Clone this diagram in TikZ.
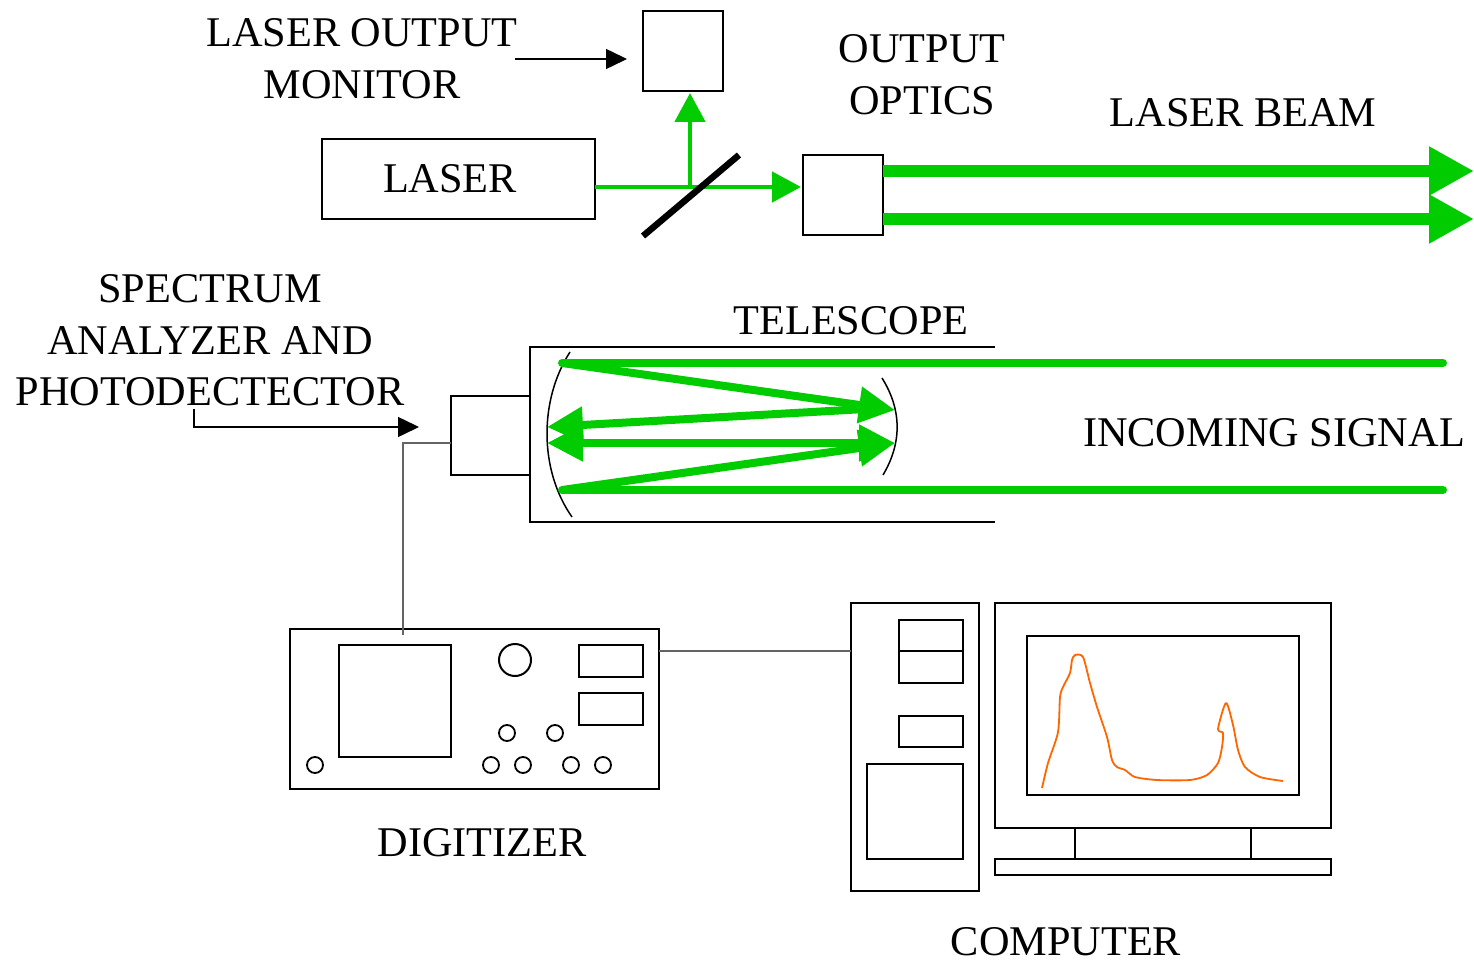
\documentclass[tikz,border=0pt]{standalone}
\usepackage{fontspec}
\setmainfont{Liberation Serif}
\usetikzlibrary{arrows.meta}
\definecolor{beam}{RGB}{0,204,0}
\definecolor{trace}{RGB}{255,102,0}
\definecolor{wire}{RGB}{100,100,100}

\begin{document}
\begin{tikzpicture}[x=1pt,y=-1pt,
  box/.style={draw, line width=2pt, inner sep=0pt, outer sep=0pt},
  part/.style={draw, line width=2pt},
  lbl/.style={anchor=base, inner sep=0pt, font=\fontsize{42.3}{52}\selectfont},
  pointer/.style={line width=1.5pt, -{Triangle[length=21pt,width=20pt]}},
  feed/.style={beam, line width=4.7pt, -{Triangle[length=29pt,width=30pt]}},
  outbeam/.style={beam, line width=12pt, -{Triangle[length=45pt,width=46pt]}},
  ray/.style={beam, line width=8pt},
  raytip/.style={-{Triangle[length=36pt,width=35pt]}},
  cable/.style={wire, line width=1.2pt},
]
\useasboundingbox (0,0) rectangle (1474,963);

% ---------------- transmitter ----------------
\node[box, minimum width=80pt, minimum height=80pt] (mon) at (683,51) {};
\node[box, minimum width=273pt, minimum height=80pt] (laser) at (458.5,179) {};
\node[lbl] (laserT) at (450,192) {LASER};
\node[box, minimum width=80pt, minimum height=80pt] (optics) at (843,195) {};

\node[lbl] (monT1) at (362,47) {LASER OUTPUT};
\node[lbl] (monT2) at (362,99) {MONITOR};
\coordinate (monA) at (515,59);
\coordinate (monB) at (627,59);
\draw[pointer] (monA) -- (monB);

\node[lbl] (optT1) at (922,63) {OUTPUT};
\node[lbl] (optT2) at (922,115) {OPTICS};
\node[lbl] (beamT) at (1243,127) {LASER BEAM};

% beam splitter and beams
\coordinate (bs) at (690,187);
\coordinate (spl1) at (643,236);
\coordinate (spl2) at (739,155);
\draw[feed] (laser.east |- bs) -- ([xshift=-2pt]optics.west |- bs);
\draw[feed] (bs) -- ([yshift=-2pt]bs |- mon.south);
\draw[line width=6.5pt] (spl1) -- (spl2);

\coordinate (b1) at (1474,171);
\coordinate (b2) at (1474,219);
\draw[outbeam] (optics.east |- b1) -- (b1);
\draw[outbeam] (optics.east |- b2) -- (b2);

% ---------------- receiver ----------------
\node[lbl] (specT1) at (210,302) {SPECTRUM};
\node[lbl] (specT2) at (210,354) {ANALYZER AND};
\node[lbl] (specT3) at (210,405) {PHOTODECTECTOR};
\coordinate (specA) at (194,409);
\coordinate (specB) at (419,427);
\draw[pointer] (specA) |- (specB);

\node[lbl] (telT) at (851,334) {TELESCOPE};
\node[lbl] (sigT) at (1274,446) {INCOMING SIGNAL};

\coordinate (tubeA) at (995,347);
\coordinate (tubeB) at (995,522);
\draw[line width=2pt] (tubeA) -- (530,347) -- (530,522) -- (tubeB);

\node[box, minimum width=79pt, minimum height=79pt] (det) at (490.5,435) {};

% mirrors
\draw[line width=1.5pt] (570,352) .. controls (539,400) and (539,470) .. (572,517);
\draw[line width=1.5pt] (882,378) .. controls (902,410) and (902,443) .. (883,475);

% folded light path
\coordinate (inT) at (562,363);
\coordinate (inB) at (562,490);
\coordinate (sm1) at (895,410);
\coordinate (sm2) at (895,443);
\coordinate (pm1) at (547,427);
\coordinate (pm2) at (547,443);
\draw[ray, line cap=round] (inT) -- (1443,363);
\draw[ray, line cap=round] (inB) -- (1443,490);
\draw[ray, raytip] (inT) -- (sm1);
\draw[ray, raytip] ([xshift=-30pt,yshift=1pt]sm1) -- (pm1);
\draw[ray, {Triangle[length=36pt,width=35pt]}-{Triangle[length=36pt,width=35pt]}] (pm2) -- (sm2);
\draw[ray, raytip] (inB) -- (sm2);

% ---------------- digitizer ----------------
\node[box, minimum width=369pt, minimum height=160pt] (dig) at (474.5,709) {};
\node[lbl] (digT) at (482,856) {DIGITIZER};
\draw[cable] (det.west |- 0,443) -| (403,635);
\draw[part] (339,645) rectangle (451,757);
\draw[part] (515,660) circle (16);
\draw[part] (579,645) rectangle (643,677);
\draw[part] (579,693) rectangle (643,725);
\foreach \p in {(507,733),(555,733),(491,765),(523,765),(571,765),(603,765),(315,765)}
  \draw[line width=1.8pt] \p circle (8);

% ---------------- computer ----------------
\node[box, minimum width=128pt, minimum height=288pt] (tower) at (915,747) {};
\draw[cable] (dig.east |- 0,651) -- (tower.west |- 0,651);
\draw[part] (899,620) rectangle (963,651);
\draw[part] (899,651) rectangle (963,683);
\draw[part] (899,716) rectangle (963,747);
\draw[part] (867,764) rectangle (963,859);

\node[box, minimum width=336pt, minimum height=225pt] (screen) at (1163,715.5) {};
\draw[part] (1027,636) rectangle (1299,795);
\draw[part] (1075,828) rectangle (1251,859);
\draw[part] (995,859) rectangle (1331,875);
\node[lbl] (compT) at (1066,955) {COMPUTER};

\draw[trace, line width=1.8pt, line join=round] plot[smooth, tension=0.45] coordinates {
  (1042,788) (1048,763) (1058,732) (1060,697) (1063,687) (1070,673) (1072,660)
  (1075,655) (1083,657) (1090,683) (1097,707) (1107,737) (1112,760) (1117,767)
  (1125,770) (1135,777) (1157,780) (1190,780) (1207,775) (1218,763) (1222,747)
  (1223,733) (1218,729) (1226,703) (1233,725) (1238,750) (1245,767) (1260,777)
  (1283,781)};
\end{tikzpicture}
\end{document}
